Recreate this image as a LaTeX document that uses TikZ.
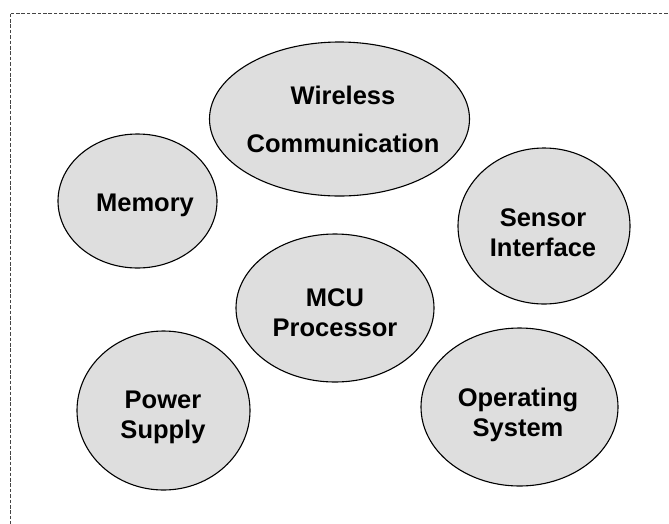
\documentclass[tikz,border=0pt]{standalone}
\usepackage{fontspec}
\setmainfont{Liberation Sans}
\usetikzlibrary{shapes.geometric}
\definecolor{bubblefill}{HTML}{DEDEDE}
\definecolor{framegray}{HTML}{444444}
\tikzset{
  bubble/.style={ellipse, draw=black, line width=1.1pt, fill=bubblefill, inner sep=0pt},
  caption/.style={font=\fontsize{25.5}{30}\selectfont\bfseries, align=center, inner sep=0pt, text=black},
  frameline/.style={draw=framegray, line width=0.8pt, dash pattern=on 3.6pt off 1.8pt}
}
\begin{document}
\begin{tikzpicture}[x=1pt, y=-1pt]
  \useasboundingbox (0,0) rectangle (669,523);
  % outer dashed frame, running off the right and bottom edges
  \begin{scope}
    \clip (0,0) rectangle (669,523);
    \draw[frameline] (10,13.5) rectangle (720,580);
  \end{scope}
  % component bubbles
  \node[bubble, minimum width=260pt, minimum height=154pt] (wl) at (339.5,119) {};
  \node[bubble, minimum width=159pt, minimum height=134pt] (mem) at (137.5,201) {};
  \node[bubble, minimum width=172pt, minimum height=156pt] (sens) at (544,226) {};
  \node[bubble, minimum width=198pt, minimum height=148pt] (mcu) at (335,308) {};
  \node[bubble, minimum width=173pt, minimum height=159pt] (pwr) at (163.5,410.5) {};
  \node[bubble, minimum width=197pt, minimum height=158pt] (os) at (519.5,407) {};
  % captions
  \node[caption] (wlt) at (343,119.5) {Wireless\\[18pt]Communication};
  \node[caption] (memt) at (145,205) {Memory};
  \node[caption] (senst) at (543,232.5) {Sensor\\Interface};
  \node[caption] (mcut) at (335,313) {MCU\\Processor};
  \node[caption] (pwrt) at (163,417) {Power\\Supply};
  \node[caption] (ost) at (518,415) {Operating\\System};
\end{tikzpicture}
\end{document}
